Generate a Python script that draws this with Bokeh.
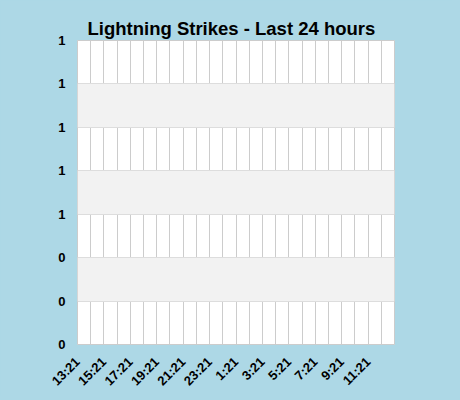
from bokeh.plotting import figure
from bokeh.models import FixedTicker, Range1d, Title
from bokeh.embed import file_html
from bokeh.resources import INLINE
import math

# ---- data ----
hour_labels = ["13:21", "14:21", "15:21", "16:21", "17:21", "18:21", "19:21", "20:21",
               "21:21", "22:21", "23:21", "0:21", "1:21", "2:21", "3:21", "4:21",
               "5:21", "6:21", "7:21", "8:21", "9:21", "10:21", "11:21", "12:21"]
strikes = [0] * 24
y_ticks = [0, 0.2, 0.4, 0.6, 0.8, 1.0, 1.2, 1.4]
y_tick_labels = ["0", "0", "0", "1", "1", "1", "1", "1"]
title_text = "Lightning Strikes - Last 24 hours"

BG = "#ADD8E6"
FONT = "Liberation Sans"
FW, FH = 317, 304

p = figure(width=452, height=392, output_backend="svg", toolbar_location=None, title=None,
           x_range=Range1d(0, len(hour_labels)), y_range=Range1d(0, 1.4),
           min_border_left=77, min_border_right=58, min_border_top=40, min_border_bottom=48)
p.frame_width = FW
p.frame_height = FH

p.vbar(x=[i + 0.5 for i in range(len(strikes))], top=strikes, width=0.8,
       fill_color="#4572A7", line_color=None)

p.background_fill_color = "white"
p.border_fill_color = BG
p.outline_line_color = "#cccccc"

# title, then an invisible spacer between it and the frame
p.add_layout(Title(text=title_text, align="left", vertical_align="top", offset=10, standoff=0,
                   text_font=FONT, text_font_size="18.5px", text_font_style="bold",
                   text_color="black"), "above")
p.add_layout(Title(text=".", standoff=16, text_font_size="1px", text_alpha=0), "above")

# x axis
xa = p.xaxis[0]
xa.ticker = FixedTicker(ticks=list(range(0, len(hour_labels), 2)))
xa.major_label_overrides = {i: hour_labels[i] for i in range(0, len(hour_labels), 2)}
xa.major_label_orientation = math.pi / 4
xa.axis_line_color = None
xa.major_tick_line_color = None
xa.minor_tick_line_color = None
xa.major_tick_out = 0
xa.major_tick_in = 0
xa.major_label_standoff = 15
xa.major_label_text_font = FONT
xa.major_label_text_font_size = "13px"
xa.major_label_text_font_style = "bold"
xa.major_label_text_color = "black"

# y axis
ya = p.yaxis[0]
ya.ticker = FixedTicker(ticks=y_ticks)
ya.major_label_overrides = {t: l for t, l in zip(y_ticks, y_tick_labels)}
ya.axis_line_color = None
ya.major_tick_line_color = None
ya.minor_tick_line_color = None
ya.major_tick_out = 0
ya.major_tick_in = 0
ya.major_label_standoff = 12
ya.major_label_text_font = FONT
ya.major_label_text_font_size = "13px"
ya.major_label_text_font_style = "bold"
ya.major_label_text_color = "black"

# grids
p.xgrid.ticker = FixedTicker(ticks=list(range(len(hour_labels) + 1)))
p.xgrid.grid_line_color = "#cccccc"
p.ygrid.ticker = FixedTicker(ticks=y_ticks)
p.ygrid.grid_line_color = "#dddddd"
p.ygrid.band_fill_color = "#f2f2f2"
p.ygrid.band_fill_alpha = 1.0

html = file_html(p, INLINE, title="Lightning Strikes")
html = html.replace("<head>", "<head><style>body{background:#ADD8E6;}</style>", 1)
open("out.html", "w").write(html)
